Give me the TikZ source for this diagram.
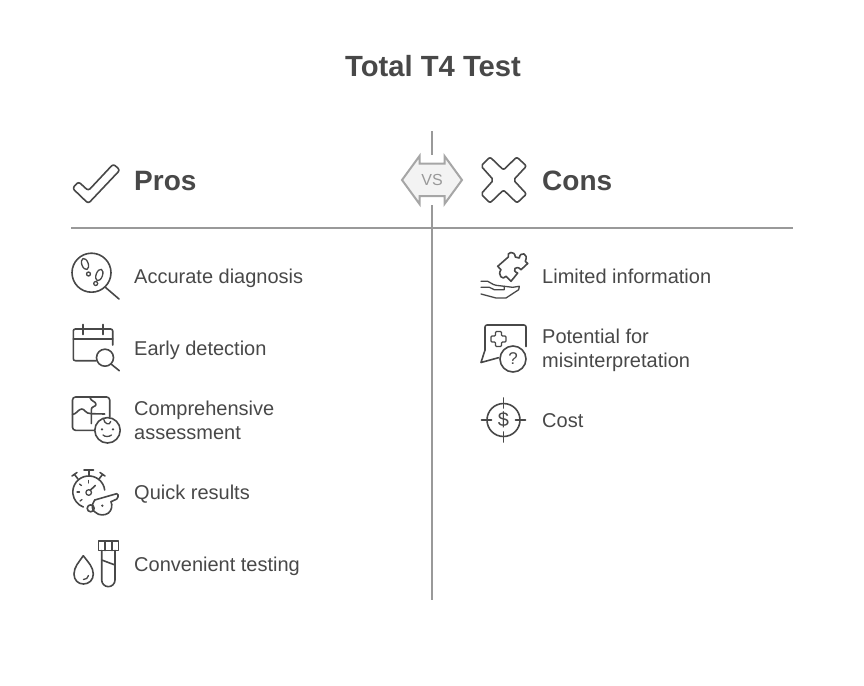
\documentclass[tikz,border=0pt]{standalone}
\usepackage{fontspec}
\setmainfont{Liberation Sans}
\definecolor{ink}{HTML}{484848}
\definecolor{rulegray}{HTML}{999999}
\definecolor{vsgray}{HTML}{A6A6A6}
\definecolor{vsfill}{HTML}{F3F3F3}
\tikzset{
	titletext/.style={text=ink,font=\fontsize{29.2}{34}\selectfont\bfseries},
	headtext/.style={text=ink,anchor=base west,inner sep=0pt,font=\fontsize{28}{36}\selectfont\bfseries},
	itemtext/.style={text=ink,anchor=base west,align=left,inner sep=0pt,font=\fontsize{20}{24}\selectfont},
	divider/.style={draw=rulegray,line width=2pt},
	icon/.style={draw=ink,line width=1.6pt,line cap=round,line join=round},
	thinicon/.style={icon,line width=1.3pt}
}
\begin{document}
\begin{tikzpicture}[x=1pt,y=-1pt]
	\useasboundingbox (0,0) rectangle (864,685);
	\node[titletext] (title) at (433,66.5) {Total T4 Test};
	% column heads
	\node[headtext] (pros) at (134,190.5) {Pros};
	\node[headtext] (cons) at (542,190.5) {Cons};
	% rules
	\coordinate (ruleL) at (71,228);
	\coordinate (ruleR) at (793,228);
	\coordinate (midT) at (432,131);
	\coordinate (midB) at (432,600);
	\node[inner sep=0pt,minimum width=60pt,minimum height=50pt] (vs) at (432,180) {};
	\draw[divider] (ruleL) -- (ruleR);
	\draw[divider] (midT) -- (vs.north);
	\draw[divider] (vs.south) -- (midB);
	% vs arrows
	\draw[draw=vsgray,fill=vsfill,line width=2pt,line join=miter] (402,180) -- (419.5,156) -- (419.5,163.5) -- (444.5,163.5) -- (444.5,156) -- (462,180) -- (444.5,204) -- (444.5,196) -- (419.5,196) -- (419.5,204) -- cycle;
	\node[text=rulegray,inner sep=0pt,font=\fontsize{16}{18}\selectfont] (vstext) at (432,180) {VS};
	% items
	\node[itemtext] (a1) at (134,283) {Accurate diagnosis};
	\node[itemtext] (a2) at (134,355) {Early detection};
	\node[itemtext] (a3) at (134,439) {Comprehensive\\assessment};
	\node[itemtext] (a4) at (134,499) {Quick results};
	\node[itemtext] (a5) at (134,571) {Convenient testing};
	\node[itemtext] (b1) at (542,283) {Limited information};
	\node[itemtext] (b2) at (542,367) {Potential for\\misinterpretation};
	\node[itemtext] (b3) at (542,427) {Cost};
	% check and cross
	\draw[icon,rounded corners=2.5pt] (88.3,203.5) -- (72.5,188.3) -- (78.5,181.7) -- (88.3,190.7) -- (113.3,164) -- (120,170) -- cycle;
	\draw[icon,rounded corners=2pt] (503.5,170) -- (516.7,157) -- (526.5,166) -- (513.5,180) -- (526.5,194) -- (517,203) -- (503.5,190) -- (490,203) -- (481,194) -- (493.5,180) -- (481,166) -- (490,157) -- cycle;
	% magnifier
	\draw[icon] (91.5,272.7) circle (19.5);
	\draw[icon] (105,287) -- (119,299);
	\draw[thinicon,rotate around={20:(85,264)}] (85,264) ellipse (3.2 and 5.8);
	\draw[thinicon] (88.5,274) circle (2);
	\draw[thinicon,rotate around={-20:(99.3,275)}] (99.3,275) ellipse (3.2 and 6);
	\draw[thinicon] (95.7,283.5) circle (2);
	% calendar
	\draw[icon,rounded corners=2pt] (112.7,345) -- (112.7,329) -- (73.3,329) -- (73.3,360.7) -- (96,360.7);
	\draw[icon] (73.3,339) -- (112.7,339);
	\draw[icon] (82.7,324.5) -- (82.7,334.5);
	\draw[icon] (102.7,324.5) -- (102.7,334.5);
	\draw[icon] (105,357.7) circle (8.5);
	\draw[icon] (111,364) -- (119.3,370.7);
	% puzzle and face
	\draw[icon,rounded corners=3pt] (109.7,417) -- (109.7,397) -- (72.5,397) -- (72.5,430.3) -- (94,430.3);
	\draw[icon] (72.5,414.5) .. controls (77,414) and (78,409) .. (82,409) .. controls (85,409) and (85,413.7) .. (91.3,413.7) -- (104.7,414);
	\draw[icon] (89.7,397) .. controls (91,402) and (96,401) .. (96,404.5) .. controls (96,407) and (91.3,406) .. (91.3,409.5) -- (91.3,423.5);
	\draw[icon] (107.5,430.3) circle (12.7);
	\fill[ink] (102,429.3) circle (1.3) (113,429.3) circle (1.3);
	\draw[thinicon] (103,435) .. controls (105,437) and (109,437) .. (111.5,435);
	\draw[thinicon] (103.5,418.5) .. controls (104,424) and (110,426) .. (110.7,421.5);
	% stopwatch and whistle
	\draw[icon] (104.7,490) arc (-7:-250:16);
	\draw[icon] (84,470) -- (93.5,470);
	\draw[icon] (88.7,470) -- (88.7,476);
	\draw[icon] (72,476) -- (77,472.5);
	\draw[icon] (74.5,474.5) -- (78,479);
	\draw[icon] (105,476) -- (100,472.5);
	\draw[icon] (102.5,474.5) -- (99,479);
	\draw[thinicon] (88.7,492.5) circle (2.8);
	\draw[icon] (90.5,490) -- (95.3,485.5);
	\draw[thinicon] (88.7,480.5) -- (88.7,483);
	\draw[thinicon] (77,492) -- (79.5,492);
	\draw[thinicon] (79.5,484) -- (81.5,485.5);
	\draw[thinicon] (80,501) -- (82,499.5);
	\draw[icon,rounded corners=1.5pt] (94.7,500) -- (118,493.3) -- (118,498.5) -- (111,501.7);
	\draw[icon] (94.7,500) .. controls (91,505) and (92,511) .. (95,512) .. controls (99,516) and (105,515.5) .. (108.5,513) .. controls (112,510) and (112.5,505) .. (111,501.7);
	\draw[icon] (90.7,508.3) circle (3.5);
	\fill[ink] (102.3,505.7) circle (1.3);
	% drop and tube
	\draw[icon] (83.3,555.7) .. controls (79,562) and (74,567) .. (74,574) .. controls (74,580) and (78,584) .. (83.5,584) .. controls (89,584) and (93.3,580) .. (93.3,574) .. controls (93.3,567) and (88,562) .. (83.3,555.7);
	\draw[thinicon] (83.5,579.5) .. controls (86,579.5) and (88,578) .. (88.5,575.5);
	\draw[icon] (98.5,541) rectangle (118.5,550.5);
	\draw[icon] (105,541) -- (105,550.5);
	\draw[icon] (111.7,541) -- (111.7,550.5);
	\draw[icon] (101.7,550.5) -- (101.7,580) arc (180:0:6.65) -- (115,550.5);
	\draw[icon] (101.7,560) -- (115,565);
	% puzzle piece in hand
	\draw[icon] (497.7,266.3) -- (508.3,257) .. controls (506,252) and (515,250) .. (515.3,257) -- (519.3,258) .. controls (520,251) and (529,253) .. (525.3,261.3) -- (527.7,263.5) -- (521,269.7) .. controls (516,264) and (511,271) .. (517.7,273) -- (511,281.3) -- (506,276.3) .. controls (503,281) and (497,275) .. (501,269.7) -- cycle;
	\draw[thinicon] (481,281.3) -- (487.7,281.3) .. controls (490,282) and (492,284.5) .. (496,285.3) -- (512.7,287.3) -- (519.3,286.3) -- (518.7,289.7) -- (506,298) -- (496,298) -- (481,294);
	\draw[thinicon] (481,287.3) -- (489.3,287.3) -- (494.3,289.7) -- (504.3,289.7) -- (504.3,286.3);
	% chat bubble
	\draw[icon,rounded corners=2pt] (526,346.5) -- (526,325) -- (485,325) -- (485,350);
	\draw[icon] (485,350) -- (481,362.5) -- (498.5,357.7);
	\draw[thinicon,rounded corners=1pt] (495.5,331.5) -- (501.5,331.5) -- (501.5,336) -- (506,336) -- (506,342) -- (501.5,342) -- (501.5,346.5) -- (495.5,346.5) -- (495.5,342) -- (491,342) -- (491,336) -- (495.5,336) -- cycle;
	\draw[icon] (513,359) circle (13);
	\node[text=ink,inner sep=0pt,font=\fontsize{17}{19}\selectfont] (qmark) at (513,359) {?};
	% dollar target
	\draw[icon] (503.5,420) circle (16.5);
	\draw[icon] (503.5,398) -- (503.5,408);
	\draw[icon] (503.5,432) -- (503.5,442);
	\draw[icon] (481.5,420) -- (491.5,420);
	\draw[icon] (515.5,420) -- (525.5,420);
	\node[text=ink,inner sep=0pt,font=\fontsize{20}{22}\selectfont] (dollar) at (503.5,420) {\$};
\end{tikzpicture}
\end{document}
